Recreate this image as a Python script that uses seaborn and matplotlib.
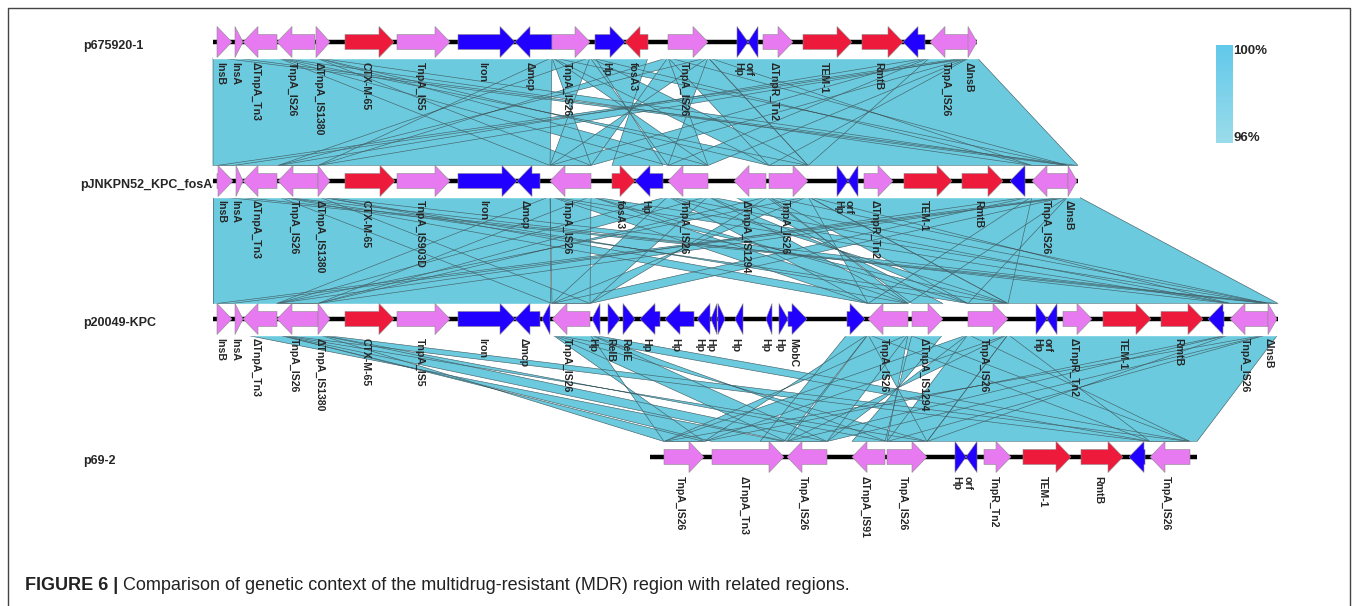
import numpy as np
import matplotlib
matplotlib.use("Agg")
import matplotlib.pyplot as plt
import seaborn as sns
from matplotlib.patches import Polygon, Rectangle
from matplotlib.collections import PolyCollection

sns.set_theme(style="white")
plt.rcParams["font.family"] = ["Liberation Sans", "DejaVu Sans"]

# Tracks: name, y of the backbone line, start and end of the backbone
track_names = ["p675920-1", "pJNKPN52_KPC_fosA3", "p20049-KPC", "p69-2"]
track_y = [42, 181, 319, 457]
track_start = [213, 213, 213, 650]
track_end = [977, 1078, 1278, 1197]

# genes: (start, end, strand, kind, label)
genes1 = [
    (217, 232, "+", "pink", "InsB"),
    (235, 243, "+", "pink", "InsA"),
    (243, 277, "-", "pink", "ΔTnpA_Tn3"),
    (277, 315, "-", "pink", "TnpA_IS26"),
    (316, 330, "+", "pink", "ΔTnpA_IS1380"),
    (345, 394, "+", "red", "CTX-M-65"),
    (397, 450, "+", "pink", "TnpA_IS5"),
    (458, 515, "+", "blue", "Iron"),
    (515, 552, "-", "blue", "Δmcp"),
    (552, 590, "+", "pink", "TnpA_IS26"),
    (595, 625, "+", "blue", "Hp"),
    (625, 648, "-", "red", "fosA3"),
    (668, 708, "+", "pink", "TnpA_IS26"),
    (737, 748, "+", "blue", "Hp"),
    (748, 758, "-", "blue", "orf"),
    (763, 793, "+", "pink", "ΔTnpR_Tn2"),
    (803, 852, "+", "red", "TEM-1"),
    (862, 903, "+", "red", "RmtB"),
    (903, 925, "-", "blue", ""),
    (930, 970, "-", "pink", "TnpA_IS26"),
    (968, 977, "+", "pink", "ΔInsB"),
]
genes2 = [
    (217, 233, "+", "pink", "InsB"),
    (236, 243, "+", "pink", "InsA"),
    (243, 277, "-", "pink", "ΔTnpA_Tn3"),
    (278, 318, "-", "pink", "TnpA_IS26"),
    (318, 330, "+", "pink", "ΔTnpA_IS1380"),
    (345, 395, "+", "red", "CTX-M-65"),
    (397, 450, "+", "pink", "TnpA_IS903D"),
    (458, 517, "+", "blue", "Iron"),
    (517, 540, "-", "blue", "Δmcp"),
    (550, 591, "-", "pink", "TnpA_IS26"),
    (612, 635, "+", "red", "fosA3"),
    (635, 663, "-", "blue", "Hp"),
    (668, 708, "-", "pink", "TnpA_IS26"),
    (734, 766, "-", "pink", "ΔTnpA_IS1294"),
    (769, 808, "+", "pink", "TnpA_IS26"),
    (837, 848, "+", "blue", "Hp"),
    (848, 858, "-", "blue", "orf"),
    (864, 893, "+", "pink", "ΔTnpR_Tn2"),
    (904, 952, "+", "red", "TEM-1"),
    (962, 1003, "+", "red", "RmtB"),
    (1010, 1025, "-", "blue", ""),
    (1032, 1068, "-", "pink", "TnpA_IS26"),
    (1068, 1077, "+", "pink", "ΔInsB"),
]
genes3 = [
    (217, 232, "+", "pink", "InsB"),
    (235, 243, "+", "pink", "InsA"),
    (243, 277, "-", "pink", "ΔTnpA_Tn3"),
    (277, 318, "-", "pink", "TnpA_IS26"),
    (318, 330, "+", "pink", "ΔTnpA_IS1380"),
    (345, 394, "+", "red", "CTX-M-65"),
    (397, 450, "+", "pink", "TnpA_IS5"),
    (458, 515, "+", "blue", "Iron"),
    (515, 540, "-", "blue", "Δmcp"),
    (542, 550, "-", "blue", ""),
    (552, 590, "-", "pink", "TnpA_IS26"),
    (592, 600, "-", "blue", "Hp"),
    (608, 620, "+", "blue", "RelB"),
    (623, 635, "+", "blue", "RelE"),
    (640, 660, "-", "blue", "Hp"),
    (665, 694, "-", "blue", "Hp"),
    (697, 710, "-", "blue", "Hp"),
    (711, 717, "-", "blue", "Hp"),
    (718, 725, "+", "blue", ""),
    (735, 743, "-", "blue", "Hp"),
    (766, 772, "-", "blue", "Hp"),
    (779, 788, "+", "blue", "Hp"),
    (788, 807, "+", "blue", "MobC"),
    (847, 865, "+", "blue", ""),
    (868, 908, "-", "pink", "TnpA_IS26"),
    (912, 943, "+", "pink", "ΔTnpA_IS1294"),
    (968, 1008, "+", "pink", "TnpA_IS26"),
    (1036, 1047, "+", "blue", "Hp"),
    (1047, 1057, "-", "blue", "orf"),
    (1063, 1092, "+", "pink", "ΔTnpR_Tn2"),
    (1103, 1151, "+", "red", "TEM-1"),
    (1161, 1203, "+", "red", "RmtB"),
    (1208, 1224, "-", "blue", ""),
    (1230, 1268, "-", "pink", "TnpA_IS26"),
    (1268, 1277, "+", "pink", "ΔInsB"),
]
genes4 = [
    (664, 704, "+", "pink", "TnpA_IS26"),
    (712, 784, "+", "pink", "ΔTnpA_Tn3"),
    (787, 827, "-", "pink", "TnpA_IS26"),
    (852, 885, "-", "pink", "ΔTnpA_IS91"),
    (887, 927, "+", "pink", "TnpA_IS26"),
    (955, 966, "+", "blue", "Hp"),
    (966, 977, "-", "blue", "orf"),
    (984, 1011, "+", "pink", "TnpR_Tn2"),
    (1023, 1071, "+", "red", "TEM-1"),
    (1081, 1123, "+", "red", "RmtB"),
    (1129, 1145, "-", "blue", ""),
    (1150, 1190, "-", "pink", "TnpA_IS26"),
]
all_genes = [genes1, genes2, genes3, genes4]

# similarity blocks between neighbouring tracks: (upper start, upper end, lower start, lower end)
# lower start > lower end means an inverted match
match12 = [
    (213, 552, 213, 550), (552, 590, 591, 550), (595, 648, 663, 612),
    (668, 708, 708, 668), (708, 977, 808, 1078),
    (277, 315, 550, 591), (277, 315, 668, 708), (277, 315, 808, 769),
    (277, 315, 1032, 1068), (552, 590, 318, 278), (552, 590, 708, 668),
    (552, 590, 769, 808), (552, 590, 1068, 1032), (668, 708, 318, 278),
    (668, 708, 591, 550), (668, 708, 769, 808), (668, 708, 1068, 1032),
    (930, 970, 278, 318), (930, 970, 550, 591), (930, 970, 668, 708),
    (930, 970, 808, 769), (217, 232, 1068, 1077), (968, 977, 217, 233),
]
match23 = [
    (213, 550, 213, 550), (550, 591, 552, 590), (668, 708, 868, 908),
    (734, 766, 943, 912), (769, 808, 968, 1008), (808, 1078, 1008, 1278),
    (278, 318, 552, 590), (278, 318, 868, 908), (278, 318, 1008, 968),
    (278, 318, 1230, 1268), (550, 591, 277, 318), (550, 591, 868, 908),
    (550, 591, 1008, 968), (550, 591, 1230, 1268), (668, 708, 277, 318),
    (668, 708, 552, 590), (668, 708, 1008, 968), (668, 708, 1230, 1268),
    (769, 808, 318, 277), (769, 808, 590, 552), (769, 808, 908, 868),
    (769, 808, 1268, 1230), (1032, 1068, 277, 318), (1032, 1068, 552, 590),
    (1032, 1068, 868, 908), (1032, 1068, 1008, 968),
    (217, 233, 1268, 1277), (1068, 1077, 217, 232),
]
match34 = [
    (1008, 1278, 927, 1197), (968, 1008, 887, 927), (243, 277, 784, 712),
    (912, 943, 885, 852), (847, 868, 760, 784),
    (277, 318, 704, 664), (277, 318, 787, 827), (277, 318, 927, 887),
    (277, 318, 1150, 1190), (552, 590, 704, 664), (552, 590, 787, 827),
    (552, 590, 927, 887), (552, 590, 1150, 1190), (868, 908, 704, 664),
    (868, 908, 787, 827), (868, 908, 927, 887), (868, 908, 1150, 1190),
    (968, 1008, 664, 704), (968, 1008, 827, 787), (968, 1008, 1190, 1150),
    (1230, 1268, 704, 664), (1230, 1268, 787, 827), (1230, 1268, 927, 887),
]
all_matches = [match12, match23, match34]

colors = {"pink": "#E77AF0", "red": "#EE1A3C", "blue": "#2200FF"}
band_color = "#6BCADD"
half_h, body_h, head_l = 15.5, 7.5, 15

fig = plt.figure(figsize=(13.58, 6.06), dpi=100)
ax = fig.add_axes([0, 0, 1, 1])
ax.set_xlim(0, 1358)
ax.set_ylim(606, 0)
ax.axis("off")

# similarity bands (fills first, outlines on top)
polys = []
for i, matches in enumerate(all_matches):
    y_top = track_y[i] + half_h
    y_bot = track_y[i + 1] - half_h
    for ts, te, bs, be in matches:
        polys.append([(ts, y_top), (te, y_top), (be, y_bot), (bs, y_bot)])
ax.add_collection(PolyCollection(polys, facecolors=band_color, edgecolors="none", zorder=1))
ax.add_collection(PolyCollection(polys, facecolors="none", edgecolors="#44626a",
                                 linewidths=0.45, zorder=1.5))

# tracks
for name, y, x0, x1, genes in zip(track_names, track_y, track_start, track_end, all_genes):
    ax.text(80 if name.startswith("pJ") else 83, y + 4, name, fontsize=9, fontweight="bold",
            va="center", ha="left", zorder=2)
    ax.add_patch(Rectangle((x0, y - half_h), x1 - x0 + 1, 2 * half_h, color="white", zorder=3))
    ax.plot([x0, x1], [y, y], color="black", lw=3.2, solid_capstyle="butt", zorder=4)
    for s, e, strand, kind, label in genes:
        L = e - s
        neck = max(0, L - head_l)
        if strand == "+":
            if neck > 0:
                pts = [(s, y - body_h), (s + neck, y - body_h), (s + neck, y - half_h), (e, y),
                       (s + neck, y + half_h), (s + neck, y + body_h), (s, y + body_h)]
            else:
                pts = [(s, y - half_h), (e, y), (s, y + half_h)]
        else:
            if neck > 0:
                pts = [(e, y - body_h), (e - neck, y - body_h), (e - neck, y - half_h), (s, y),
                       (e - neck, y + half_h), (e - neck, y + body_h), (e, y + body_h)]
            else:
                pts = [(e, y - half_h), (s, y), (e, y + half_h)]
        ax.add_patch(Polygon(pts, closed=True, facecolor=colors[kind], edgecolor="#8a8a8a",
                             lw=0.4, zorder=5))
        if label:
            ax.text((s + e) / 2 - 4, y + half_h + 4, label, rotation=-90, fontsize=7.6,
                    fontweight="bold", ha="center", va="top", zorder=6)

# identity legend
cmap = sns.blend_palette(["#9ADCEB", "#62C9EA"], n_colors=64, as_cmap=True)
grad = np.linspace(0, 1, 64).reshape(-1, 1)
ax.imshow(grad, cmap=cmap, extent=[1216, 1233, 143, 45], aspect="auto", origin="lower", zorder=2)
ax.text(1233, 51, "100%", fontsize=9.5, fontweight="bold", va="center", ha="left")
ax.text(1233, 138, "96%", fontsize=9.5, fontweight="bold", va="center", ha="left")

# frame and caption
ax.plot([8, 8, 1350, 1350], [606, 8, 8, 606], color="#444444", lw=1, zorder=2)
t1 = ax.text(25, 585, "FIGURE 6 |", fontsize=13, fontweight="bold", va="center", ha="left",
             color="#222222")
ax.annotate(" Comparison of genetic context of the multidrug-resistant (MDR) region with related regions.",
            xy=(1, 0), xycoords=t1, va="bottom", ha="left", fontsize=13, color="#222222")

fig.savefig("out.png", dpi=100)
